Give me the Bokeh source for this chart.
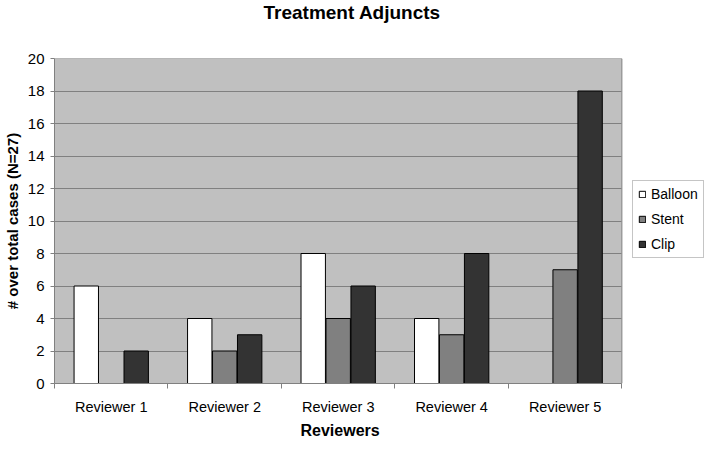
from bokeh.plotting import figure
from bokeh.models import ColumnDataSource, Range1d, FixedTicker, Legend, LegendItem, Title
from bokeh.transform import dodge
from bokeh.embed import file_html
from bokeh.resources import INLINE

reviewers = ["Reviewer 1", "Reviewer 2", "Reviewer 3", "Reviewer 4", "Reviewer 5"]
series = ["Balloon", "Stent", "Clip"]
balloon = [6, 4, 8, 4, 0]
stent = [0, 2, 4, 3, 7]
clip = [2, 3, 6, 8, 18]
y_ticks = [0, 2, 4, 6, 8, 10, 12, 14, 16, 18, 20]

colors = ["#ffffff", "#808080", "#333333"]
offsets = [-0.22, 0.0, 0.22]
FONT = "'Liberation Sans', Arial, sans-serif"

# layout: the chart area is 570px wide; the frame runs on to the right edge to hold the legend
PLOT_W, FRAME_W = 570, 653
n = len(reviewers)
x_end = n * FRAME_W / PLOT_W

centers = [i + 0.5 for i in range(n)]
src = ColumnDataSource(dict(x=centers, Balloon=balloon, Stent=stent, Clip=clip))

p = figure(width=704, height=441, title=None,
           x_range=Range1d(0, x_end), y_range=Range1d(y_ticks[0], y_ticks[-1]),
           output_backend="svg", toolbar_location=None,
           min_border_left=51, min_border_right=0, min_border_top=55, min_border_bottom=56)

# spacer between frame and title, then the title itself (outermost)
spacer = Title(text=" ", standoff=30, text_font=FONT, text_font_size="1px", text_color="white")
p.add_layout(spacer, "above")
main_title = Title(text="Treatment Adjuncts", align="left", offset=209, vertical_align="top",
                   standoff=2, text_font=FONT, text_font_size="19px", text_font_style="bold",
                   text_color="black")
p.add_layout(main_title, "above")

p.background_fill_color = "white"
p.border_fill_color = "white"
p.outline_line_color = None

# grey chart area
p.quad(left=[0], right=[n], bottom=[y_ticks[0]], top=[y_ticks[-1]],
       fill_color="#c0c0c0", line_color="#808080", line_width=1, level="image")

renderers = []
for i, s in enumerate(series):
    r = p.vbar(x=dodge("x", offsets[i], range=p.x_range), top=s, width=0.215, source=src,
               fill_color=colors[i], line_color="black", line_width=1)
    renderers.append(r)

# x axis
xa = p.xaxis[0]
xa.bounds = (0, n)
xa.ticker = FixedTicker(ticks=centers, minor_ticks=list(range(n + 1)))
xa.major_label_overrides = {c: r for c, r in zip(centers, reviewers)}
xa.major_tick_out = 0
xa.major_tick_in = 0
xa.minor_tick_out = 5
xa.minor_tick_in = 0
xa.minor_tick_line_color = "#808080"
xa.axis_line_color = "#808080"
xa.major_label_text_font = FONT
xa.major_label_text_font_size = "14.5px"
xa.major_label_text_color = "black"
xa.major_label_standoff = 10

xt = Title(text="Reviewers", align="left", offset=246, vertical_align="bottom", standoff=5,
           text_font=FONT, text_font_size="16px", text_font_style="bold", text_color="black")
p.add_layout(xt, "below")

# y axis
ya = p.yaxis[0]
ya.bounds = (y_ticks[0], y_ticks[-1])
ya.ticker = FixedTicker(ticks=y_ticks, minor_ticks=[])
ya.major_tick_out = 4
ya.major_tick_in = 0
ya.major_tick_line_color = "#808080"
ya.axis_line_color = "#808080"
ya.major_label_text_font = FONT
ya.major_label_text_font_size = "15px"
ya.major_label_text_color = "black"
ya.major_label_standoff = 6
ya.axis_label = "# over total cases (N=27)"
ya.axis_label_text_font = FONT
ya.axis_label_text_font_size = "15px"
ya.axis_label_text_font_style = "bold"
ya.axis_label_text_color = "black"
ya.axis_label_standoff = 4

p.xgrid.visible = False
p.ygrid.grid_line_color = "#808080"
p.ygrid.grid_line_width = 1
p.ygrid.cross_bounds = (0, n)

legend = Legend(items=[LegendItem(label=s, renderers=[r]) for s, r in zip(series, renderers)],
                location=(578, 125))
legend.margin = 0
legend.padding = 5
legend.spacing = 9
legend.glyph_width = 8
legend.glyph_height = 8
legend.label_standoff = 5
legend.label_height = 16
legend.label_text_font = FONT
legend.label_text_font_size = "14px"
legend.label_text_color = "black"
legend.border_line_color = "#8c8c8c"
legend.background_fill_color = "white"
legend.background_fill_alpha = 1
p.add_layout(legend)

open("out.html", "w").write(file_html(p, INLINE))
